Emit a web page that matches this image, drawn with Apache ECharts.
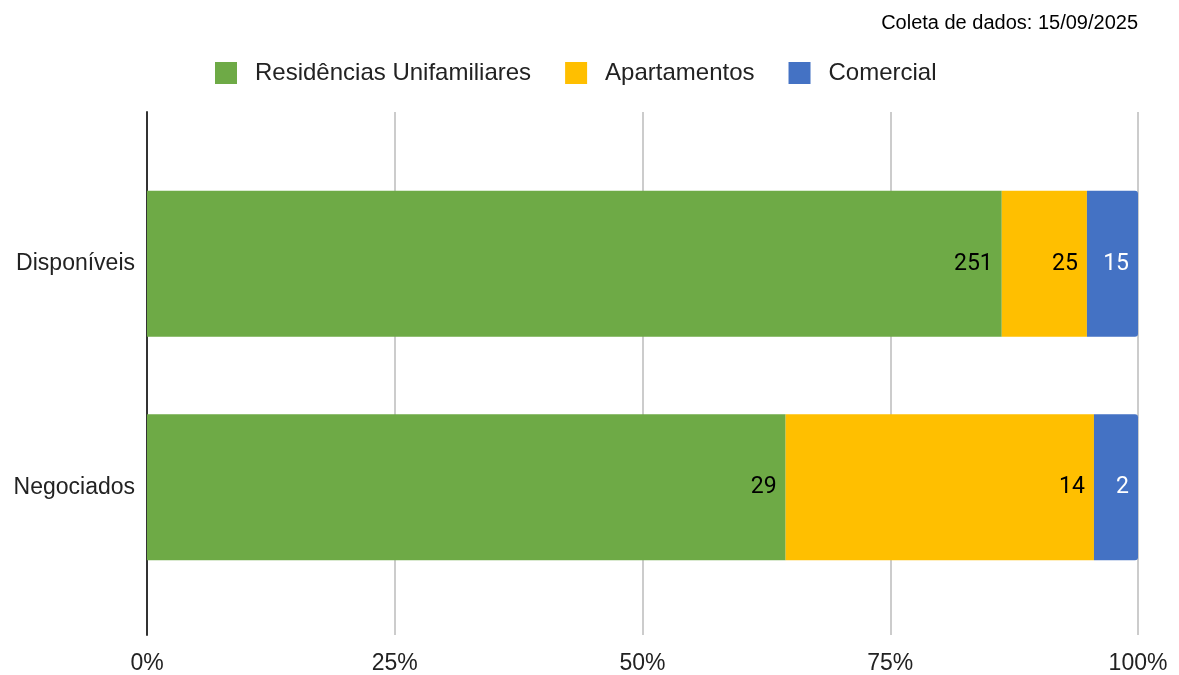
<!DOCTYPE html>
<html>
<head>
<meta charset="UTF-8">
<title>Imóveis</title>
<script src="https://cdn.jsdelivr.net/npm/echarts@6/dist/echarts.min.js"></script>
<style>
  html, body { margin: 0; padding: 0; background: #fff; }
</style>
</head>
<body>
	<div id="main" style="width: 1179px;height:675px;"></div>
	<script type="text/javascript">
	// dados
	var categorias = ['Negociados', 'Disponíveis'];
	var residencias = [29, 251];
	var apartamentos = [14, 25];
	var comercial = [2, 15];
	var ticks = [0, 25, 50, 75, 100];

	var totais = categorias.map(function (c, i) {
		return residencias[i] + apartamentos[i] + comercial[i];
	});

	function pct(arr) {
		return arr.map(function (v, i) {
			return { value: v / totais[i] * 100, raw: v };
		});
	}

	var chartDom = document.getElementById('main');
	var myChart = echarts.init(chartDom);

	var labelBase = {
		show: true,
		position: 'insideRight',
		distance: 9,
		fontFamily: 'Roboto',
		fontSize: 23,
		formatter: function (p) { return p.data.raw; }
	};

	myChart.setOption({
		animation: false,
		title: {
			text: 'Coleta de dados: 15/09/2025',
			right: 36,
			top: 8,
			textStyle: {
				fontFamily: 'Liberation Sans',
				fontSize: 20,
				fontWeight: 'normal',
				color: '#000'
			}
		},
		legend: {
			data: ['Residências Unifamiliares', 'Apartamentos', 'Comercial'],
			top: 56,
			left: 210,
			itemWidth: 22,
			itemHeight: 22,
			itemGap: 34,
			icon: 'rect',
			textStyle: {
				fontFamily: 'Liberation Sans',
				fontSize: 24,
				color: '#222',
				padding: [0, 0, 0, 13]
			}
		},
		// grid 0: linhas de grade e eixo x; grid 1: barras
		grid: [
			{ left: 147, right: 41, top: 112, bottom: 40 },
			{ left: 147, right: 41, top: 152, bottom: 76 }
		],
		xAxis: [{
			type: 'value',
			gridIndex: 0,
			min: 0,
			max: 100,
			interval: 25,
			axisLine: { show: false },
			axisTick: { show: false },
			splitLine: { lineStyle: { color: '#cccccc', width: 2 } },
			axisLabel: {
				formatter: function (v) { return ticks.indexOf(v) >= 0 ? v + '%' : ''; },
				fontFamily: 'Liberation Sans',
				fontSize: 23,
				color: '#222',
				margin: 17
			}
		}, {
			type: 'value',
			gridIndex: 1,
			min: 0,
			max: 100,
			show: false
		}],
		yAxis: [{
			type: 'category',
			gridIndex: 0,
			data: [''],
			axisLine: { show: true, lineStyle: { color: '#333', width: 2 } },
			axisTick: { show: false },
			axisLabel: { show: false }
		}, {
			type: 'category',
			gridIndex: 1,
			data: categorias,
			axisLine: { show: false },
			axisTick: { show: false },
			axisLabel: {
				fontFamily: 'Liberation Sans',
				fontSize: 23,
				color: '#222',
				margin: 12
			}
		}],
		series: [{
			name: 'Residências Unifamiliares',
			type: 'bar',
			stack: 'total',
			xAxisIndex: 1,
			yAxisIndex: 1,
			barWidth: 146,
			itemStyle: { color: '#6eaa46' },
			label: Object.assign({}, labelBase, { color: '#000' }),
			data: pct(residencias)
		}, {
			name: 'Apartamentos',
			type: 'bar',
			stack: 'total',
			xAxisIndex: 1,
			yAxisIndex: 1,
			barWidth: 146,
			itemStyle: { color: '#ffbf00' },
			label: Object.assign({}, labelBase, { color: '#000' }),
			data: pct(apartamentos)
		}, {
			name: 'Comercial',
			type: 'bar',
			stack: 'total',
			xAxisIndex: 1,
			yAxisIndex: 1,
			barWidth: 146,
			itemStyle: { color: '#4472c4', borderRadius: [0, 3, 3, 0] },
			label: Object.assign({}, labelBase, { color: '#fff' }),
			data: pct(comercial)
		}]
	});
	</script>
</body>
</html>
